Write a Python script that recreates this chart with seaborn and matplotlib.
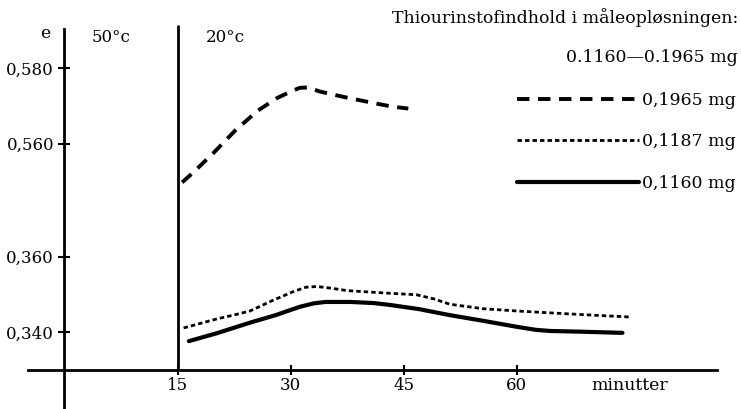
import numpy as np
import pandas as pd
import matplotlib
matplotlib.use("Agg")
import matplotlib.pyplot as plt
import seaborn as sns

# minutes and potential e for the three amounts of thiourea
x_1965 = [15.6, 17.1, 19.7, 22.6, 25.6, 28.2, 30.0, 31.2, 32.3, 33.9, 37.0, 40.9, 43.5, 45.6]
e_1965 = [0.5497, 0.5524, 0.5574, 0.5634, 0.5687, 0.5721, 0.5738, 0.5748, 0.5749, 0.5738, 0.5724, 0.5708, 0.5698, 0.5693]

x_1187 = [15.8, 18.0, 20.2, 22.4, 24.6, 27.5, 30.3, 32.0, 33.5, 35.5, 37.5, 42.3, 46.7, 49.0, 51.1, 55.5, 60.0, 64.4, 70.0, 75.0]
e_1187 = [0.3411, 0.3423, 0.3435, 0.3445, 0.3456, 0.3483, 0.3507, 0.3519, 0.3521, 0.3516, 0.3510, 0.3504, 0.3499, 0.3488, 0.3474, 0.3462, 0.3456, 0.3451, 0.3445, 0.3440]

x_1160 = [16.5, 20.2, 24.6, 28.0, 31.2, 33.0, 34.6, 37.9, 41.0, 43.2, 47.0, 51.1, 55.5, 60.0, 62.5, 64.4, 68.7, 74.0]
e_1160 = [0.3376, 0.3397, 0.3425, 0.3445, 0.3467, 0.3476, 0.3480, 0.3480, 0.3477, 0.3472, 0.3461, 0.3445, 0.3430, 0.3414, 0.3406, 0.3403, 0.3401, 0.3398]

series_labels = ["0,1965 mg", "0,1187 mg", "0,1160 mg"]
x_ticks = [15, 30, 45, 60]
y_ticks = [0.340, 0.360, 0.560, 0.580]
y_ticklabels = ["0,340", "0,360", "0,560", "0,580"]

sns.set_style("white")
plt.rcParams["font.family"] = ["DejaVu Serif"]
plt.rcParams["font.size"] = 12
plt.rcParams["text.color"] = "black"
plt.rcParams["axes.edgecolor"] = "black"
plt.rcParams["xtick.color"] = "black"
plt.rcParams["ytick.color"] = "black"

fig = plt.figure(figsize=(7.41, 4.09), dpi=100)
ax = fig.add_axes([0, 0, 1, 1])
ax.patch.set_alpha(0)

# broken e-axis: squeeze the empty range between 0,370 and 0,545
def fwd(v):
    return np.interp(v, [0.0, 0.37, 0.545, 1.0], [0.0, 0.37, 0.375, 0.83])

def inv(t):
    return np.interp(t, [0.0, 0.37, 0.375, 0.83], [0.0, 0.37, 0.545, 1.0])

ax.set_yscale("function", functions=(fwd, inv))

df1 = pd.DataFrame({"min": x_1965, "e": e_1965})
df2 = pd.DataFrame({"min": x_1187, "e": e_1187})
df3 = pd.DataFrame({"min": x_1160, "e": e_1160})

sns.lineplot(data=df1, x="min", y="e", ax=ax, color="black", lw=2.8,
             linestyle=(0, (3.2, 2.2)), label=series_labels[0])
sns.lineplot(data=df2, x="min", y="e", ax=ax, color="black", lw=2.0,
             linestyle=(0, (1.6, 1.1)), label=series_labels[1])
sns.lineplot(data=df3, x="min", y="e", ax=ax, color="black", lw=3.0,
             linestyle="-", label=series_labels[2])

ax.set_xlim(-8.55, 89.72)
ax.set_ylim(0.3196, 0.5981)

for s in ["top", "right"]:
    ax.spines[s].set_visible(False)
ax.spines["left"].set_position(("data", 0))
ax.spines["bottom"].set_position(("data", 0.330))
ax.spines["left"].set_linewidth(2.0)
ax.spines["bottom"].set_linewidth(2.0)
ax.spines["left"].set_bounds(0.3196, 0.5905)
ax.spines["bottom"].set_bounds(-4.9, 86.6)

# temperature change at 15 min
ax.plot([15, 15], [0.330, 0.5912], color="black", lw=2.0)

ax.set_yticks(y_ticks)
ax.set_yticklabels(y_ticklabels)
ax.set_xticks(x_ticks)
ax.set_xticklabels([str(t) for t in x_ticks])
ax.tick_params(axis="y", left=True, direction="inout", length=9, width=1.5, pad=3, labelsize=12)
ax.tick_params(axis="x", bottom=True, direction="inout", length=7, width=1.5, pad=2, labelsize=12)
ax.set_xlabel("")
ax.set_ylabel("")

ax.text(75, 0.3281, "minutter", ha="center", va="top", fontsize=12.5)
ax.text(-2.6, 0.5892, "e", ha="center", va="center", fontsize=12.5)
ax.text(6.2, 0.5882, "50°c", ha="center", va="center", fontsize=12)
ax.text(21.3, 0.5882, "20°c", ha="center", va="center", fontsize=12)

fig.text(738 / 741, 1 - 18 / 409, "Thiourinstofindhold i måleopløsningen:",
         ha="right", va="center", fontsize=12.5)
fig.text(738 / 741, 1 - 58 / 409, "0.1160—0.1965 mg",
         ha="right", va="center", fontsize=12.5)

ax.legend(loc="upper left", bbox_to_anchor=(517 / 741, 1 - 92 / 409),
          frameon=False, handlelength=7.0, handletextpad=0.2,
          labelspacing=1.4, borderpad=0, borderaxespad=0, fontsize=12.5)

fig.savefig("out.png", dpi=100)
